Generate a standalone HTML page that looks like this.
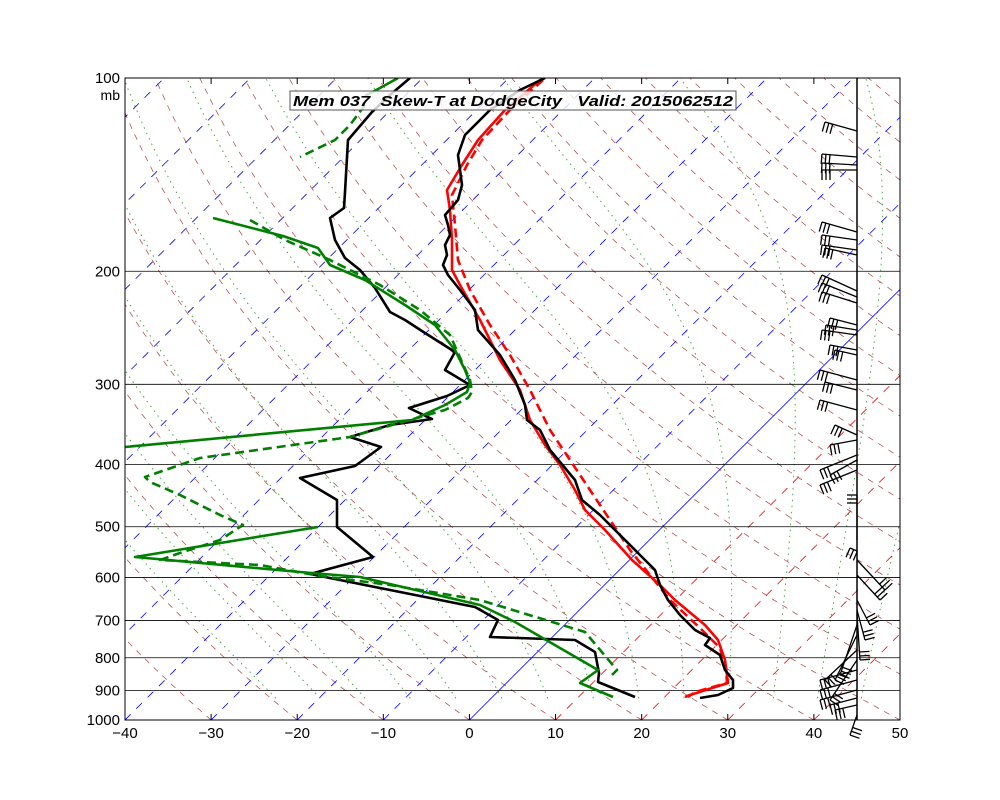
<!DOCTYPE html>
<html><head><meta charset="utf-8"><style>
body{margin:0;background:#fff;}
svg{display:block;font-family:"Liberation Sans",sans-serif;}
</style></head><body>
<svg id="s" width="1000" height="800" xmlns="http://www.w3.org/2000/svg">
<defs><clipPath id="c"><rect x="125" y="78" width="775" height="642"/></clipPath></defs>
<rect width="1000" height="800" fill="#fff"/>
<g id="bg" clip-path="url(#c)"></g>
<g id="hl"></g>
<g id="data" clip-path="url(#c)" fill="none" stroke-width="2.6" stroke-linejoin="round">
<polyline stroke="#f00" points="540,80 505,110 478,140 462,165 447,190 450,210 452,240 452,270 460,285 480,320 500,360 520,390 530,420 545,445 560,465 575,490 585,510 605,530 632,560 660,585 675,600 705,625 718,640 725,660 728,683 690,695 685,697"/>
<polyline stroke="#f00" stroke-dasharray="9,5" points="543,80 510,110 482,140 467,165 452,195 455,225 458,260 470,290 490,325 510,355 530,390 550,430 570,460 590,490 610,520 630,550 650,575 670,600 700,628 720,648 726,670 727,683 695,692 688,697"/>
<polyline stroke="#000" points="545,78 520,90 490,110 465,135 458,155 462,185 458,200 445,215 448,225 450,235 445,245 447,255 443,265 448,275 460,290 475,310 478,330 500,355 515,380 525,405 527,420 540,430 550,450 565,468 575,480 582,500 600,515 620,535 640,555 655,570 660,585 668,600 680,615 695,630 710,638 705,645 720,655 725,670 733,680 733,688 718,695 700,698"/>
<polyline stroke="#000" points="410,78 390,95 372,112 348,140 345,192 344,208 330,218 335,240 345,258 360,270 375,288 390,312 405,320 425,333 455,352 445,370 470,385 447,396 409,408 432,419 390,425 350,437 381,447 355,466 300,478 337,500 337,527 373,557 310,574 475,607 498,620 490,637 575,640 595,652 599,673 598,682 635,697"/>
<polyline stroke="#008000" points="398,78 380,88 365,96"/>
<polyline stroke="#008000" points="213,218 283,236 318,248 330,265 365,280 405,305 435,325 455,350 465,370 470,383 467,392 445,405 412,420 125,447"/>
<polyline stroke="#008000" points="318,527 135,557 300,572 360,577 480,605 515,622 598,670 580,683 613,697"/>
<polyline stroke="#008000" stroke-dasharray="9,5" points="365,105 350,125 335,140 300,157"/>
<polyline stroke="#008000" stroke-dasharray="9,5" points="250,220 285,240 330,260 380,285 420,310 450,335 470,380 472,392 468,398 445,410 350,437 200,458 145,477 150,482 180,495 220,515 243,525 220,540 180,553 160,560 260,565 320,576 390,585 480,600 585,632 617,670 612,675"/>
</g>
<g id="barbs" stroke="#000" stroke-width="1.3" fill="none"></g>
<rect x="125" y="78" width="775" height="642" fill="none" stroke="#000" stroke-width="1"/>
<line x1="857" y1="78" x2="857" y2="720" stroke="#000" stroke-width="1.5"/>
<g id="ax" font-size="15" fill="#000"></g>
<rect x="290" y="91" width="446" height="19" fill="#fff" fill-opacity="0.8" stroke="#555"/>
<text x="293" y="106" font-size="14.5" font-weight="bold" font-style="italic" textLength="440" lengthAdjust="spacingAndGlyphs" style="white-space:pre" xml:space="preserve">Mem 037  Skew-T at DodgeCity   Valid: 2015062512</text>
</svg>
<script>
var NS="http://www.w3.org/2000/svg";
function Y(p){return 720-642*Math.log10(1000/p);}
function X(T,p){return 125+(T+40)*8.611+(720-Y(p));}
function el(g,t,a){var e=document.createElementNS(NS,t);for(var k in a)e.setAttribute(k,a[k]);g.appendChild(e);return e;}
var bg=document.getElementById('bg');
for(var th=-30;th<=300;th+=10){var pts=[];for(var p=1000;p>=95;p-=10){var T=(th+273.15)*Math.pow(p/1000,0.286)-273.15;pts.push(X(T,p).toFixed(1)+","+Y(p).toFixed(1));}
el(bg,'polyline',{points:pts.join(' '),fill:'none',stroke:'#a52a2a','stroke-width':0.8,'stroke-dasharray':'6,6',opacity:0.8});}
for(var T0=-20;T0<=45;T0+=5){var T=T0+273.15,pts=[];for(var p=1000;p>=100;p-=5){if(p<=925)pts.push(X(T-273.15,p).toFixed(1)+","+Y(p).toFixed(1));var tc=T-273.15;var es=6.112*Math.exp(17.67*tc/(tc+243.5));var rs=0.622*es/(p-es);var d=(287*T+2.5e6*rs)/(1005+2.5e6*2.5e6*rs*0.622/(287*T*T))/p;T-=d*5;}
el(bg,'polyline',{points:pts.join(' '),fill:'none',stroke:'#008000','stroke-width':1,'stroke-dasharray':'1.5,4.5',opacity:0.7});}
for(var T=-130;T<=50;T+=10){var x1=X(T,1000);var col=T<=0?'#0000ff':'#ff0000';var a={x1:x1,y1:720,x2:x1+800,y2:-80,stroke:col,'stroke-width':0.8};if(T!=0)a['stroke-dasharray']='8,8';el(bg,'line',a);}
var hl=document.getElementById('hl'),ax=document.getElementById('ax');
[100,200,300,400,500,600,700,800,900,1000].forEach(function(p){var y=Y(p);if(p>100&&p<1000)el(hl,'line',{x1:125,y1:y,x2:900,y2:y,stroke:'#000','stroke-width':0.8});
var t=el(ax,'text',{x:120,y:y+5,'text-anchor':'end'});t.textContent=p;});
var t=el(ax,'text',{x:120,y:100,'text-anchor':'end','font-size':14});t.textContent='mb';
for(var T=-40;T<=50;T+=10){var x=125+(T+40)*8.611;el(ax,'line',{x1:x,y1:720,x2:x,y2:714,stroke:'#000'});el(ax,'line',{x1:x,y1:78,x2:x,y2:84,stroke:'#000'});
var t=el(ax,'text',{x:x,y:738,'text-anchor':'middle'});t.textContent=(T<0?'\u2212'+(-T):T);}
var b=document.getElementById('barbs');
var bl=[[131,825,122],[157,822,154],[165,822,163],[170,822,170],[232,822,222],[240,822,235],[250,822,245],[255,825,248],[291,822,275],[297,822,283],[303,822,292],[325,830,318],[330,826,325],[335,822,330],[350,830,345],[355,835,350],[380,820,370],[390,825,382],[410,820,400],[435,835,425],[440,830,445],[455,820,470],[460,830,475],[470,820,485],[540,857,495],[551,850,548],[560,885,590],[575,880,600],[600,870,625],[610,865,640],[615,860,660],[625,840,675],[635,835,680],[650,825,680],[660,830,700],[670,820,680],[680,820,690],[690,820,700],[698,830,705],[705,835,710],[715,850,735]];
bl.forEach(function(q){el(b,'line',{x1:857,y1:q[0],x2:q[1],y2:q[2]});
var dx=q[1]-857,dy=q[2]-q[0],L=Math.hypot(dx,dy),ux=dx/L,uy=dy/L;for(var i=0;i<3;i++){var bx=q[1]-ux*i*4,by=q[2]-uy*i*4;el(b,'line',{x1:bx,y1:by,x2:bx+uy*10,y2:by-ux*10});}});
</script>
</body></html>
